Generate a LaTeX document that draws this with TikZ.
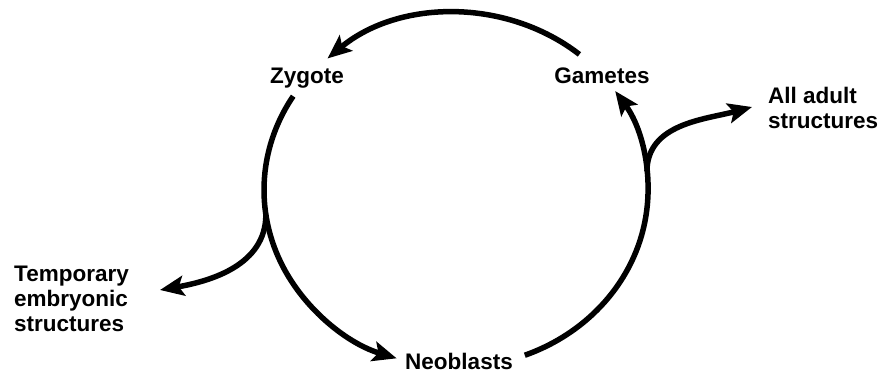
\documentclass[tikz,border=0pt]{standalone}
\usepackage{fontspec}
\setmainfont{Liberation Sans}
\usetikzlibrary{arrows.meta}

\begin{document}
\begin{tikzpicture}[x=1pt,y=1pt,
  lab/.style={font=\fontsize{22.5}{25}\selectfont\bfseries,inner sep=0pt},
  cyc/.style={line width=5.5pt,-{Stealth[length=24pt,width=20pt,inset=5pt]}}]
  \useasboundingbox (0,0) rectangle (886,374);
  \coordinate (c) at (456,184);
  \node[lab,anchor=base] (zyg) at (307,290) {Zygote};
  \node[lab,anchor=base] (gam) at (602,290) {Gametes};
  \node[lab,anchor=base] (neo) at (459,4) {Neoblasts};
  \node[lab,anchor=west,align=left] (adult) at (768,266) {All adult\\structures};
  \node[lab,anchor=west,align=left] (emb) at (14,75) {Temporary\\embryonic\\structures};
  \path (c) ++(50:192 and 177) coordinate (top-s);
  \path (c) ++(148:192 and 177) coordinate (left-s);
  \path (c) ++(291:192 and 177) coordinate (right-s);
  \path (c) ++(6:192 and 177) coordinate (rj);
  \path (c) ++(188:192 and 177) coordinate (lj);
  \coordinate (adult-tip) at (752,267);
  \coordinate (emb-tip) at (160,84);
  \draw[cyc] (top-s) arc[start angle=50,end angle=132,x radius=192,y radius=177];
  \draw[cyc] (left-s) arc[start angle=148,end angle=252,x radius=192,y radius=177];
  \draw[cyc] (right-s) arc[start angle=291,end angle=394,x radius=192,y radius=177];
  \draw[cyc] (rj) to[out=90,in=195] (adult-tip);
  \draw[cyc] (lj) to[out=-90,in=10] (emb-tip);
\end{tikzpicture}
\end{document}
